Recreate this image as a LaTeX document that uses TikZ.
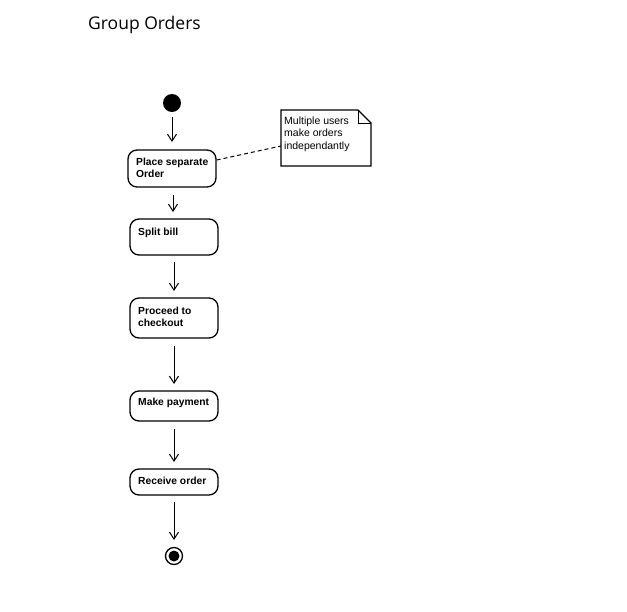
\documentclass[tikz,border=0pt]{standalone}
\usepackage{fontspec}
\setmainfont{Liberation Sans}
\newfontfamily\titlefont{Open Sans}
\usetikzlibrary{arrows.meta,shapes.misc}
\begin{document}
\begin{tikzpicture}[x=1pt,y=-1pt,
  actbox/.style={draw,line width=1.3pt,rounded corners=9pt,inner sep=0pt},
  acttext/.style={anchor=west,inner sep=0pt,font=\fontsize{10.3}{12}\selectfont\bfseries,align=left},
  flow/.style={draw,line width=1pt,-{Straight Barb[length=7pt,width=9pt,line width=1pt]}},
  notetext/.style={anchor=north west,inner sep=0pt,font=\fontsize{10.5}{12.6}\selectfont,align=left}]
\useasboundingbox (0,0) rectangle (627,611);
\node[anchor=west,inner sep=0pt,font=\titlefont\fontsize{17.5}{20}\selectfont] (title) at (88,24.5) {Group Orders};

\node[circle,fill=black,minimum size=18pt,inner sep=0pt] (start) at (172,103) {};

\node[actbox,minimum width=88pt,minimum height=37pt] (b1) at (172,168.5) {};
\node[acttext] (t1) at (136,167.5) {Place separate\\Order};
\node[actbox,minimum width=88pt,minimum height=36pt] (b2) at (174,237) {};
\node[acttext] (t2) at (138,232.5) {Split bill};
\node[actbox,minimum width=88pt,minimum height=40pt] (b3) at (174,318) {};
\node[acttext] (t3) at (138,316.5) {Proceed to\\checkout};
\node[actbox,minimum width=88pt,minimum height=30pt] (b4) at (174,406) {};
\node[acttext] (t4) at (138,402.5) {Make payment};
\node[actbox,minimum width=88pt,minimum height=26pt] (b5) at (174,482) {};
\node[acttext] (t5) at (138,480.5) {Receive order};

\node[circle,draw,line width=1.3pt,minimum size=17pt,inner sep=0pt] (endo) at (174,556) {};
\node[circle,fill=black,minimum size=11pt,inner sep=0pt] (endi) at (174,556) {};

% note
\coordinate (n1) at (281,110);
\coordinate (n2) at (358,110);
\coordinate (n3) at (371,123);
\coordinate (n4) at (371,166);
\coordinate (n5) at (281,166);
\coordinate (nf) at (358,123);
\draw[line width=1.1pt] (n1) -- (n2) -- (n3) -- (n4) -- (n5) -- cycle;
\draw[line width=1pt] (n2) -- (nf) -- (n3);
\node[notetext] (nt) at (284,116.5) {Multiple users\\make orders\\independantly};
\coordinate (na) at (281,146);
\draw[dashed,line width=1pt,dash pattern=on 4pt off 3pt] (b1.east |- 0,160) -- (na);

\draw[flow] (start) ++(0,14) coordinate (a0) -- (172,142);
\draw[flow] (173,195) -- (173,212);
\draw[flow] (174,262) -- (174,291);
\draw[flow] (174,346) -- (174,384);
\draw[flow] (174,429) -- (174,462);
\draw[flow] (174,502) -- (174,540);
\end{tikzpicture}
\end{document}
